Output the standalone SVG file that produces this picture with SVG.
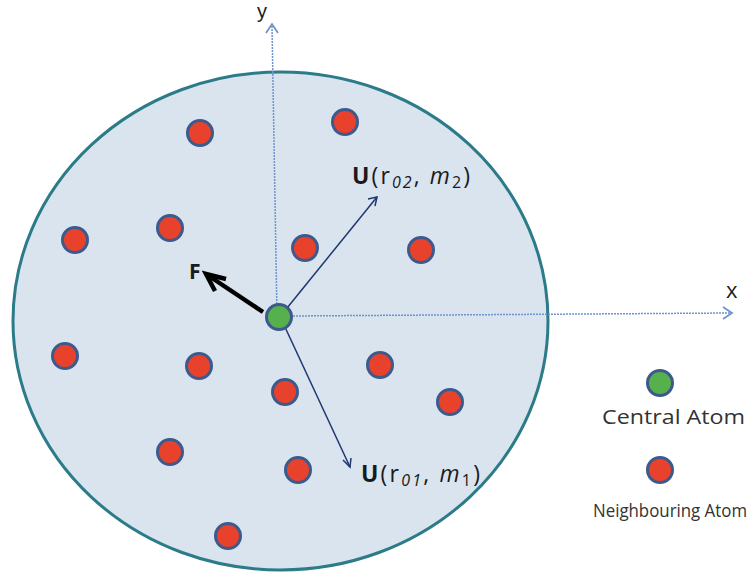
<svg xmlns="http://www.w3.org/2000/svg" width="753" height="577" viewBox="0 0 753 577">
<style>
.atom{fill:#e8412c;stroke:#3d5a8c;stroke-width:3}
.central{fill:#56b04c;stroke:#3d5a8c;stroke-width:3}
.axis{stroke:#6f93cf;stroke-width:1.5;stroke-dasharray:2 1;fill:none}
.axhead{stroke:#6f93cf;stroke-width:1.8;fill:none}
.vec{stroke:#1f3670;stroke-width:1.5;fill:none}
.lbl{font-family:"Open Sans","DejaVu Sans",sans-serif;fill:#1a1a1a}
.leg{font-family:"Open Sans","DejaVu Sans",sans-serif;fill:#333}
</style>
<rect width="753" height="577" fill="#fff"/>
<g id="domain">
<ellipse cx="280.5" cy="321" rx="267.5" ry="249" fill="#d9e4ef" stroke="#2b7b89" stroke-width="3"/>
</g>
<g id="connectors">
<path class="axis" d="M277,316 L272,26"/>
<path class="axhead" d="M266,33 L272,24 L278,33"/>
<path class="axis" d="M290,316 L730,313"/>
<path class="axhead" d="M723,307 L732,313 L723,319"/>
<path class="vec" d="M283,313 L377,197"/>
<path class="vec" d="M368,199 L377,197 L375,206"/>
<path class="vec" d="M284,325 L350,467"/>
<path class="vec" d="M343,460 L350,467 L351,458"/>
<path d="M263,312 L209,276" stroke="#000" stroke-width="4.5" fill="none"/>
<path d="M226,279 L206,274 L215,291" stroke="#000" stroke-width="4.5" fill="none" stroke-linejoin="miter"/>
</g>
<g id="neighbours">
<circle class="atom" cx="200" cy="133" r="12.5"/>
<circle class="atom" cx="345" cy="122" r="12.5"/>
<circle class="atom" cx="75" cy="240" r="12.5"/>
<circle class="atom" cx="170" cy="228" r="12.5"/>
<circle class="atom" cx="305" cy="248" r="12.5"/>
<circle class="atom" cx="421" cy="250" r="12.5"/>
<circle class="atom" cx="65" cy="356" r="12.5"/>
<circle class="atom" cx="199" cy="366" r="12.5"/>
<circle class="atom" cx="380" cy="365" r="12.5"/>
<circle class="atom" cx="450" cy="402" r="12.5"/>
<circle class="atom" cx="285" cy="392" r="12.5"/>
<circle class="atom" cx="170" cy="452" r="12.5"/>
<circle class="atom" cx="298" cy="470" r="12.5"/>
<circle class="atom" cx="228" cy="536" r="12.5"/>
</g>
<g id="central-atom">
<circle class="central" cx="279" cy="317" r="12.5"/>
</g>
<g id="labels">
<text x="257" y="18" font-size="20" font-family="Liberation Sans, sans-serif" fill="#1a1a1a">y</text>
<text class="lbl" x="726" y="298" font-size="22">x</text>
<text class="lbl" x="189" y="279" font-size="21" font-weight="bold">F</text>
<text class="lbl" x="352" y="184" font-size="23" textLength="118"><tspan font-weight="bold">U</tspan>(r<tspan font-style="italic" font-size="16" dy="4">02</tspan><tspan dy="-4">, </tspan><tspan font-style="italic">m</tspan><tspan font-size="16" dy="4">2</tspan><tspan dy="-4">)</tspan></text>
<text class="lbl" x="361" y="482" font-size="23" textLength="119"><tspan font-weight="bold">U</tspan>(r<tspan font-style="italic" font-size="16" dy="4">01</tspan><tspan dy="-4">, </tspan><tspan font-style="italic">m</tspan><tspan font-size="16" dy="4">1</tspan><tspan dy="-4">)</tspan></text>
</g>
<g id="legend">
<circle class="central" cx="660" cy="383" r="12.5"/>
<text class="leg" x="602" y="424" font-size="20" textLength="143" lengthAdjust="spacingAndGlyphs">Central Atom</text>
<circle class="atom" cx="660" cy="470" r="12.5"/>
<text class="leg" x="593" y="517" font-size="17.5" textLength="154" lengthAdjust="spacingAndGlyphs">Neighbouring Atom</text>
</g>
</svg>
